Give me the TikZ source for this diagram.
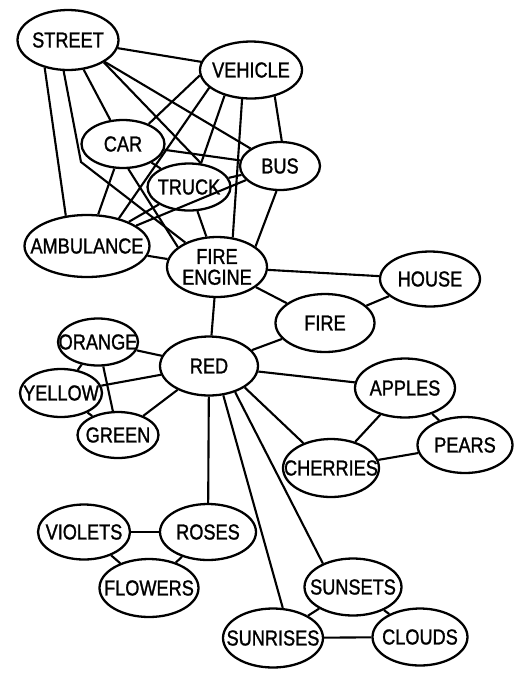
\documentclass[tikz,border=0pt]{standalone}
\usepackage{fontspec}
\newfontfamily\wordfont{Liberation Sans}[FakeStretch=0.84, FakeBold=1.2]
\usetikzlibrary{shapes.geometric}
\def\cword#1{\makebox[0pt]{#1}}
\tikzset{
	word/.style={draw, ellipse, line width=1.3pt, inner sep=0pt, align=center,
		font=\wordfont\fontsize{12.3}{11.8}\selectfont},
	link/.style={line width=1.2pt}
}

\begin{document}
\begin{tikzpicture}[x=0.02cm, y=-0.02cm]
		%%%%% START %%%%%
		\useasboundingbox (0, 0) rectangle (531, 680);
		
		\node[word, minimum width=2.02cm, minimum height=1.2cm] (street) at (68, 40) {\cword{STREET}};
		\node[word, minimum width=2.04cm, minimum height=1.14cm] (vehicle) at (251, 70) {\cword{VEHICLE}};
		\node[word, minimum width=1.66cm, minimum height=0.96cm] (car) at (123, 144) {\cword{CAR}};
		\node[word, minimum width=1.6cm, minimum height=0.96cm] (bus) at (280, 166) {\cword{BUS}};
		\node[word, minimum width=1.66cm, minimum height=0.94cm] (truck) at (189, 187) {\cword{TRUCK}};
		\node[word, minimum width=2.5cm, minimum height=1.24cm] (ambulance) at (87, 246) {\cword{AMBULANCE}};
		\node[word, minimum width=2.0cm, minimum height=1.2cm] (fireengine) at (217, 267) {FIRE\\ENGINE};
		
		\node[word, minimum width=2.0cm, minimum height=1.1cm] (house) at (430, 279) {\cword{HOUSE}};
		\node[word, minimum width=1.98cm, minimum height=1.16cm] (fire) at (325, 323) {\cword{FIRE}};
		\node[word, minimum width=1.96cm, minimum height=1.18cm] (red) at (209, 366) {\cword{RED}};
		
		\node[word, minimum width=1.6cm, minimum height=0.94cm] (orange) at (98, 342) {\cword{ORANGE}};
		\node[word, minimum width=1.64cm, minimum height=0.96cm] (yellow) at (61, 393) {\cword{YELLOW}};
		\node[word, minimum width=1.62cm, minimum height=0.92cm] (green) at (118, 435) {\cword{GREEN}};
		
		\node[word, minimum width=2.0cm, minimum height=1.18cm] (apples) at (405, 388) {\cword{APPLES}};
		\node[word, minimum width=1.9cm, minimum height=1.12cm] (pears) at (465, 445) {\cword{PEARS}};
		\node[word, minimum width=1.92cm, minimum height=1.16cm] (cherries) at (331, 468) {\cword{CHERRIES}};
		
		\node[word, minimum width=1.84cm, minimum height=1.1cm] (violets) at (84, 532) {\cword{VIOLETS}};
		\node[word, minimum width=1.92cm, minimum height=1.12cm] (roses) at (208, 532) {\cword{ROSES}};
		\node[word, minimum width=1.98cm, minimum height=1.16cm] (flowers) at (149, 588) {\cword{FLOWERS}};
		
		\node[word, minimum width=1.94cm, minimum height=1.14cm] (sunsets) at (353, 587) {\cword{SUNSETS}};
		\node[word, minimum width=2.0cm, minimum height=1.18cm] (sunrises) at (273, 638) {\cword{SUNRISES}};
		\node[word, minimum width=1.9cm, minimum height=1.14cm] (clouds) at (420, 637) {\cword{CLOUDS}};
		
		\coordinate (bend) at (81, 162);
		
		% vehicles
		\draw[link] (street) -- (vehicle);
		\draw[link] (street) -- (bus);
		\draw[link] (street.328) -- (truck.63);
		\draw[link] (street) -- (car);
		\draw[link] (street.262) -- (bend) -- (fireengine);
		\draw[link] (street.230) -- (ambulance.125);
		\draw[link] (vehicle.186) -- (car.38);
		\draw[link] (vehicle.203) -- (ambulance.41);
		\draw[link] (vehicle.224) -- (truck.63);
		\draw[link] (vehicle.253) -- (fireengine.62);
		\draw[link] (vehicle.312) -- (bus.86);
		\draw[link] (car) -- (bus);
		\draw[link] (car) -- (truck);
		\draw[link] (car) -- (ambulance);
		\draw[link] (car.282) -- (fireengine.153);
		\draw[link] (bus) -- (truck);
		\draw[link] (bus) -- (ambulance);
		\draw[link] (bus.262) -- (fireengine.28);
		\draw[link] (truck) -- (ambulance);
		\draw[link] (truck) -- (fireengine);
		\draw[link] (ambulance) -- (fireengine);
		
		% fire
		\draw[link] (fireengine) -- (house);
		\draw[link] (fireengine) -- (fire);
		\draw[link] (fireengine) -- (red);
		\draw[link] (fire) -- (house);
		\draw[link] (fire) -- (red);
		
		% colours
		\draw[link] (red) -- (orange);
		\draw[link] (red) -- (yellow);
		\draw[link] (red) -- (green);
		\draw[link] (orange) -- (yellow);
		\draw[link] (orange) -- (green);
		\draw[link] (yellow) -- (green);
		
		% fruit
		\draw[link] (red) -- (apples);
		\draw[link] (red.329) -- (cherries.138);
		\draw[link] (apples) -- (cherries);
		\draw[link] (apples) -- (pears);
		\draw[link] (cherries) -- (pears);
		
		% flowers and sky
		\draw[link] (red) -- (roses);
		\draw[link] (red.296) -- (sunrises.72);
		\draw[link] (red.315) -- (sunsets.142);
		\draw[link] (violets) -- (roses);
		\draw[link] (violets) -- (flowers);
		\draw[link] (roses) -- (flowers);
		\draw[link] (sunsets) -- (sunrises);
		\draw[link] (sunsets) -- (clouds);
		\draw[link] (sunrises) -- (clouds);
		%%%%% END %%%%%
	\end{tikzpicture}
\end{document}
